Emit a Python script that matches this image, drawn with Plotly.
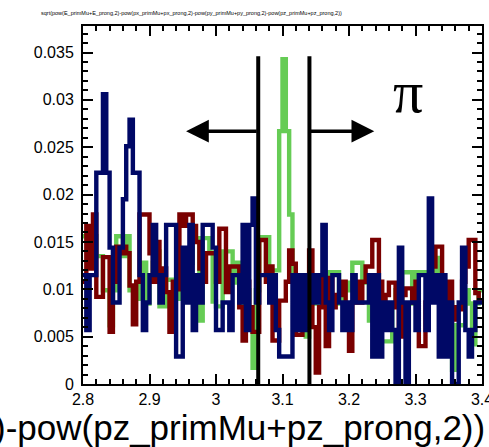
import plotly.graph_objects as go

# Binning: 120 bins of 0.005 between 2.8 and 3.4
x_min, x_max, n_bins = 2.8, 3.4, 120
bin_edges = [round(x_min + i * (x_max - x_min) / n_bins, 4) for i in range(n_bins + 1)]

navy_vals = [
    .0115, .0057, .0115, .0115, .0223, .0223, .0306, .0223, .0144, .0086,
    .0086, .0144, .0195, .0251, .0279, .0223, .0223, .0115, .0057, .0086,
    .0115, .0168, .0115, .0086, .0115, .0168, .0168, .0168, .0029, .0029,
    .0144, .0086, .0168, .0057, .0115, .0086, .0168, .0168, .0168, .0144,
    .0057, .0057, .0086, .0086, .0057, .0115, .0115, .0086, .0168, .0057,
    .0168, .0196, .0086, .0115, .0115, .0115, .0086, .0115, .0057, .0029,
    .0029, .0029, .0029, .0115, .0057, .0115, .0057, .0115, .0086, .0115,
    .0086, .0115, .0168, .0086, .0057, .0115, .0115, .0086, .0057, .0086,
    .0057, .0115, .0086, .0086, .0086, .0086, .0115, .0029, .0115, .0029,
    .0086, .0057, .0086, .0057, .0000, .0144, .0086, .0000, .0086, .0086,
    .0057, .0115, .0115, .0057, .0196, .0086, .0115, .0029, .0115, .0029,
    .0086, .0000, .0000, .0086, .0144, .0057, .0029, .0057, .0086, .0086,
]

red_vals = [
    .0108, .0167, .0122, .0179, .0092, .0092, .0134, .0134, .0055, .0108,
    .0145, .0138, .0145, .0138, .0104, .0063, .0108, .0179, .0179, .0179,
    .0138, .0108, .0150, .0108, .0122, .0097, .0055, .0108, .0100, .0179,
    .0167, .0179, .0179, .0167, .0150, .0122, .0108, .0138, .0138, .0138,
    .0108, .0164, .0164, .0097, .0124, .0124, .0124, .0081, .0046, .0108,
    .0081, .0055, .0055, .0152, .0152, .0108, .0124, .0046, .0046, .0088,
    .0088, .0108, .0141, .0127, .0052, .0052, .0108, .0081, .0141, .0060,
    .0012, .0081, .0112, .0040, .0112, .0081, .0094, .0094, .0108, .0081,
    .0035, .0086, .0108, .0086, .0108, .0124, .0124, .0152, .0152, .0108,
    .0081, .0094, .0107, .0107, .0081, .0050, .0094, .0101, .0101, .0086,
    .0108, .0040, .0040, .0086, .0108, .0124, .0145, .0145, .0030, .0081,
    .0108, .0068, .0081, .0079, .0108, .0124, .0152, .0152, .0096, .0088,
]

green_vals = [
    .0156, .0156, .0156, .0156, .0135, .0135, .0099, .0099, .0062, .0099,
    .0156, .0156, .0135, .0156, .0099, .0099, .0104, .0090, .0128, .0085,
    .0110, .0128, .0140, .0082, .0082, .0110, .0110, .0110, .0090, .0128,
    .0110, .0107, .0128, .0154, .0154, .0067, .0154, .0154, .0139, .0087,
    .0082, .0082, .0140, .0140, .0140, .0107, .0128, .0082, .0128, .0099,
    .0060, .0017, .0099, .0155, .0155, .0155, .0120, .0120, .0120, .0267,
    .0343, .0267, .0179, .0114, .0060, .0060, .0085, .0050, .0085, .0099,
    .0085, .0107, .0107, .0099, .0118, .0118, .0118, .0085, .0099, .0107,
    .0099, .0128, .0128, .0128, .0107, .0107, .0067, .0099, .0085, .0045,
    .0045, .0045, .0045, .0085, .0099, .0085, .0118, .0118, .0118, .0085,
    .0118, .0118, .0118, .0118, .0099, .0107, .0133, .0099, .0085, .0062,
    .0085, .0015, .0062, .0062, .0062, .0099, .0085, .0042, .0085, .0099,
]

# Drawing order: green underneath, navy on top
series = [
    ("green", green_vals, "#66cc55"),
    ("red", red_vals, "#7a0000"),
    ("navy", navy_vals, "#000866"),
]

# Selection window and annotations
cut_low, cut_high, cut_top = 3.0635, 3.1405, 0.0346
arrow_y, arrow_left_tip, arrow_right_tip = 0.0267, 2.955, 3.238

x_tick_vals = [2.8, 2.9, 3.0, 3.1, 3.2, 3.3, 3.4]
x_tick_text = ["2.8", "2.9", "3", "3.1", "3.2", "3.3", "3.4"]
y_tick_vals = [0, 0.005, 0.01, 0.015, 0.02, 0.025, 0.03, 0.035]
y_tick_text = ["0", "0.005", "0.01", "0.015", "0.02", "0.025", "0.03", "0.035"]

title_text = ("sqrt(pow(E_primMu+E_prong,2)-pow(px_primMu+px_prong,2)"
              "-pow(py_primMu+py_prong,2)-pow(pz_primMu+pz_prong,2))")

fig = go.Figure()
for name, vals, color in series:
    fig.add_trace(go.Scatter(
        x=bin_edges, y=list(vals) + [vals[-1]],
        mode="lines", line=dict(shape="hv", color=color, width=4.4),
        name=name, showlegend=False, hoverinfo="skip",
    ))

for xc in (cut_low, cut_high):
    fig.add_shape(type="line", x0=xc, x1=xc, y0=0, y1=cut_top,
                  xref="x", yref="y", line=dict(color="black", width=4))

for tail, tip in ((cut_low, arrow_left_tip), (cut_high, arrow_right_tip)):
    fig.add_annotation(x=tip, y=arrow_y, ax=tail, ay=arrow_y,
                       xref="x", yref="y", axref="x", ayref="y",
                       text="", showarrow=True, arrowhead=2, arrowsize=1.3,
                       arrowwidth=3.5, arrowcolor="black")

fig.add_annotation(x=3.289, y=0.0308, xref="x", yref="y", text="π",
                   showarrow=False,
                   font=dict(family="Liberation Serif", size=60, color="black"))

# Histogram title (small, top left)
fig.add_annotation(x=0.2707, y=1.0363, xref="paper", yref="paper", text=title_text,
                   showarrow=False, xanchor="center", yanchor="middle",
                   font=dict(family="Liberation Sans", size=5.5, color="black"))

# X-axis title, right aligned, running off the left edge
fig.add_annotation(x=1.012, y=-0.1215, xref="paper", yref="paper",
                   xanchor="right", yanchor="middle", text=title_text,
                   showarrow=False,
                   font=dict(family="Liberation Sans", size=35, color="black"))

axis_common = dict(showgrid=False, zeroline=False, showline=True, linecolor="black",
                   linewidth=2, mirror="ticks", ticks="inside", tickcolor="black",
                   tickwidth=1.5, ticklabeloverflow="allow", automargin=False,
                   tickfont=dict(family="Liberation Sans", size=16, color="black"))

fig.update_layout(
    width=489, height=447,
    margin=dict(l=83, r=7, t=26, b=63, autoexpand=False),
    paper_bgcolor="white", plot_bgcolor="white",
    xaxis=dict(range=[x_min, x_max + 1e-6], tickvals=x_tick_vals, ticktext=x_tick_text,
               ticklen=10, minor=dict(dtick=0.02, ticks="inside", ticklen=5,
                                      tickcolor="black", tickwidth=1.5),
               **axis_common),
    yaxis=dict(range=[0, 0.0378], tickvals=y_tick_vals, ticktext=y_tick_text,
               ticklen=10, ticklabelstandoff=4,
               minor=dict(dtick=0.001, ticks="inside", ticklen=5,
                          tickcolor="black", tickwidth=1.5),
               **axis_common),
)

fig.write_html("out.html")
